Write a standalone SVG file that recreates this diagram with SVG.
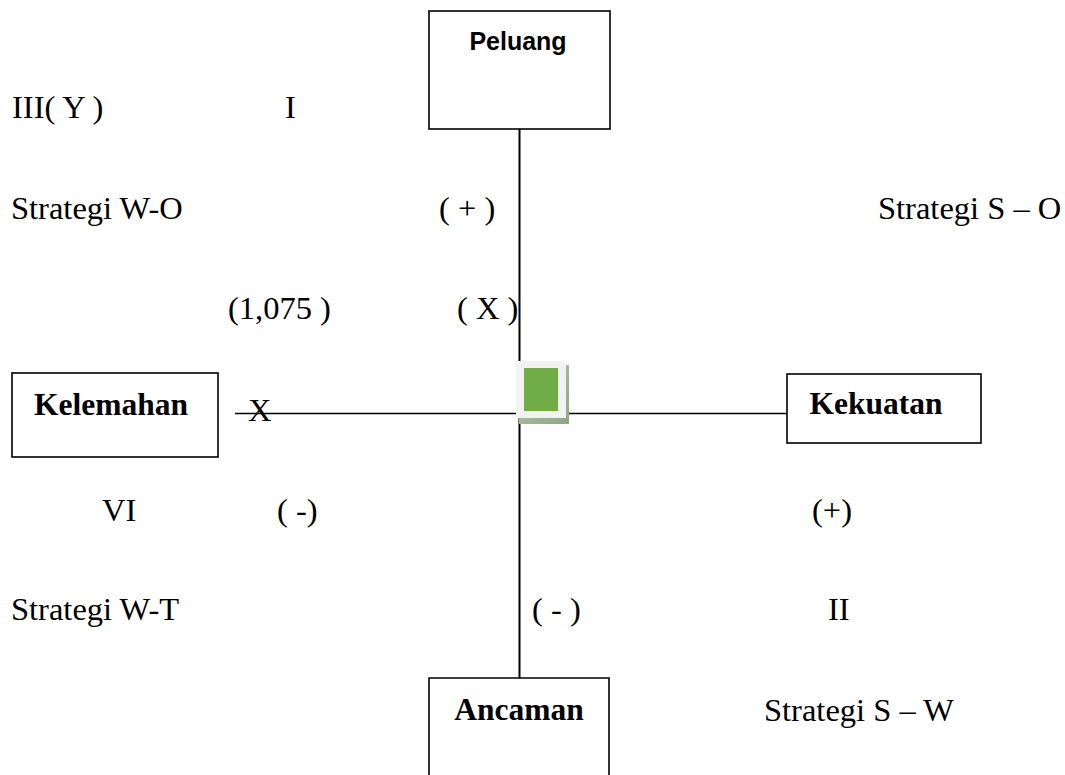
<svg xmlns="http://www.w3.org/2000/svg" width="1065" height="775" viewBox="0 0 1065 775">
<defs>
<style>
.box{fill:#fff;stroke:#000;stroke-width:1.6}
.ln{stroke:#000;fill:none}
.t{font-family:"Liberation Serif","Times New Roman",serif;font-size:32.5px;fill:#000}
.b{font-family:"Liberation Serif","Times New Roman",serif;font-size:31.5px;font-weight:bold;fill:#000}
.s{font-family:"Liberation Sans",Arial,sans-serif;font-size:25px;font-weight:bold;fill:#000}
</style>
<linearGradient id="sh" x1="0" y1="0" x2="1" y2="1">
<stop offset="0" stop-color="#b9c9b0"/>
<stop offset="1" stop-color="#8fa683"/>
</linearGradient>
</defs>
<g id="connectors">
<line class="ln" x1="519.5" y1="129" x2="519.5" y2="678" stroke-width="2"/>
<line class="ln" x1="235" y1="413.5" x2="787" y2="413.5" stroke-width="1.5"/>
</g>
<g id="peluang">
<rect class="box" x="429" y="11" width="181" height="118"/>
<text class="s" x="518" y="50" text-anchor="middle">Peluang</text>
</g>
<g id="kelemahan">
<rect class="box" x="12" y="373" width="206" height="84"/>
<text class="b" x="111" y="415" text-anchor="middle">Kelemahan</text>
</g>
<g id="kekuatan">
<rect class="box" x="787" y="374" width="194" height="69"/>
<text class="b" x="876" y="414" text-anchor="middle">Kekuatan</text>
</g>
<g id="ancaman">
<path class="box" d="M429,776 V678 H609 V776"/>
<text class="b" x="519" y="720" text-anchor="middle">Ancaman</text>
</g>
<g id="center">
<rect x="519" y="365" width="50" height="59" fill="url(#sh)"/>
<rect x="516" y="361" width="50" height="57" fill="#f2f2f2"/>
<rect x="524" y="368" width="34" height="43" fill="#70ad47"/>
</g>
<g id="labels">
<text class="t" x="12" y="118">III( Y )</text>
<text class="t" x="285" y="118">I</text>
<text class="t" x="11" y="219">Strategi W-O</text>
<text class="t" x="439" y="219">( + )</text>
<text class="t" x="878" y="219">Strategi S – O</text>
<text class="t" x="228" y="319">(1,075 )</text>
<text class="t" x="457" y="319">( X )</text>
<text class="t" x="248" y="421">X</text>
<text class="t" x="102" y="521">VI</text>
<text class="t" x="277" y="521">( -)</text>
<text class="t" x="812" y="521">(+)</text>
<text class="t" x="11" y="620">Strategi W-T</text>
<text class="t" x="532" y="620">( - )</text>
<text class="t" x="828" y="620">II</text>
<text class="t" x="764" y="721">Strategi S – W</text>
</g>
</svg>
